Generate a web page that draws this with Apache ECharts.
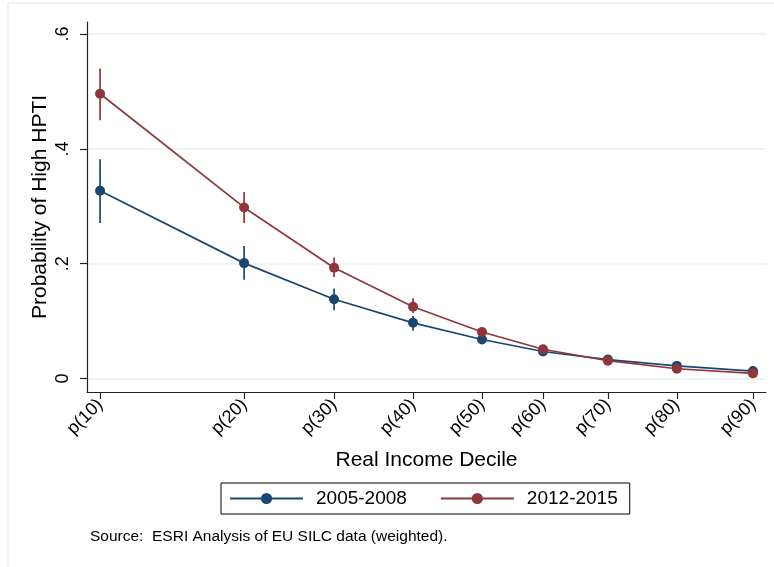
<!DOCTYPE html>
<html>
<head>
<meta charset="utf-8">
<script src="https://cdn.jsdelivr.net/npm/echarts@6/dist/echarts.min.js"></script>
<style>
html, body { margin: 0; padding: 0; background: #fff; }
#chart { width: 774px; height: 567px; }
</style>
</head>
<body>
<div id="chart"></div>
<script>
var chart = echarts.init(document.getElementById('chart'), null, { renderer: 'canvas' });

// decile labels and their real income level (x positions on the axis)
var deciles = ['p(10)', 'p(20)', 'p(30)', 'p(40)', 'p(50)', 'p(60)', 'p(70)', 'p(80)', 'p(90)'];
var incomeLevel = [8.0, 15.06, 19.47, 23.34, 26.72, 29.71, 32.89, 36.27, 40.0];

var periods = ['2005-2008', '2012-2015'];
var colors = ['#1a476f', '#90353b'];

// predicted probability of high HPTI + confidence interval
var prob0508 = [0.327, 0.201, 0.138, 0.097, 0.068, 0.047, 0.033, 0.022, 0.013];
var lo0508 = [0.271, 0.172, 0.119, 0.083, 0.061, 0.043, 0.030, 0.019, 0.010];
var hi0508 = [0.382, 0.231, 0.157, 0.109, 0.076, 0.052, 0.036, 0.025, 0.016];

var prob1215 = [0.496, 0.298, 0.193, 0.125, 0.081, 0.051, 0.031, 0.017, 0.009];
var lo1215 = [0.450, 0.271, 0.177, 0.114, 0.075, 0.047, 0.028, 0.013, 0.006];
var hi1215 = [0.540, 0.325, 0.211, 0.140, 0.088, 0.056, 0.035, 0.020, 0.012];

var yTicks = [0, 0.2, 0.4, 0.6];

var font = 'Liberation Sans, Arial, sans-serif';

function points(ys) {
    var out = [];
    for (var i = 0; i < incomeLevel.length; i++) {
        out.push([incomeLevel[i], ys[i]]);
    }
    return out;
}

function ranges(lo, hi) {
    var out = [];
    for (var i = 0; i < incomeLevel.length; i++) {
        out.push([incomeLevel[i], lo[i], hi[i]]);
    }
    return out;
}

function errorBars(name, lo, hi, color) {
    return {
        name: name,
        type: 'custom',
        silent: true,
        data: ranges(lo, hi),
        renderItem: function (params, api) {
            var a = api.coord([api.value(0), api.value(1)]);
            var b = api.coord([api.value(0), api.value(2)]);
            return {
                type: 'line',
                shape: { x1: a[0], y1: a[1], x2: b[0], y2: b[1] },
                style: { stroke: color, lineWidth: 1.7 }
            };
        }
    };
}

function curve(name, ys, color) {
    return {
        name: name,
        type: 'line',
        data: points(ys),
        symbol: 'circle',
        symbolSize: 10,
        showSymbol: true,
        lineStyle: { color: color, width: 1.7 },
        itemStyle: { color: color },
        emphasis: { disabled: true }
    };
}

chart.setOption({
    animation: false,
    grid: { left: 87, right: 8, top: 22, bottom: 175 },
    legend: {
        data: periods,
        left: 221,
        top: 483,
        orient: 'horizontal',
        padding: [6, 12, 6, 8],
        itemGap: 33,
        itemWidth: 73,
        itemHeight: 14,
        borderColor: '#000',
        borderWidth: 1,
        textStyle: { fontFamily: font, fontSize: 19, color: '#000', padding: [0, 0, 0, 8] }
    },
    xAxis: {
        type: 'value',
        min: 7.36,
        max: 40.64,
        name: 'Real Income Decile',
        nameLocation: 'middle',
        nameGap: 58,
        nameTextStyle: { fontFamily: font, fontSize: 21, color: '#000' },
        axisLine: { show: true, onZero: false, lineStyle: { color: '#222', width: 1.2 } },
        axisTick: { show: true, length: 7, customValues: incomeLevel, lineStyle: { color: '#222', width: 1.2 } },
        axisLabel: {
            customValues: incomeLevel,
            rotate: 45,
            margin: 10,
            fontFamily: font,
            fontSize: 18,
            color: '#000',
            formatter: function (v) {
                var i = incomeLevel.indexOf(v);
                return i >= 0 ? deciles[i] : '';
            }
        },
        splitLine: { show: false }
    },
    yAxis: {
        type: 'value',
        min: -0.0235,
        max: 0.621,
        name: 'Probability of High HPTI',
        nameLocation: 'middle',
        nameGap: 36,
        nameMoveOverlap: false,
        nameTextStyle: { fontFamily: font, fontSize: 21, color: '#000' },
        axisLine: { show: true, lineStyle: { color: '#222', width: 1.2 } },
        axisTick: { show: true, length: 7, customValues: yTicks, lineStyle: { color: '#222', width: 1.2 } },
        axisLabel: {
            customValues: yTicks,
            rotate: 90,
            margin: 15,
            fontFamily: font,
            fontSize: 18,
            color: '#000',
            formatter: function (v) {
                return v === 0 ? '0' : String(v).replace(/^0/, '');
            }
        },
        splitLine: { show: true, lineStyle: { color: '#eaf2f3', width: 1.5 } }
    },
    graphic: [
        { type: 'line', shape: { x1: 8, y1: 3, x2: 774, y2: 3 }, style: { stroke: '#eaf2f3', lineWidth: 1.5 } },
        { type: 'line', shape: { x1: 8, y1: 3, x2: 8, y2: 567 }, style: { stroke: '#eaf2f3', lineWidth: 1.5 } },
        {
            type: 'text',
            left: 90,
            top: 529,
            style: {
                text: 'Source:  ESRI Analysis of EU SILC data (weighted).',
                fontFamily: font,
                fontSize: 15.5,
                fill: '#000'
            }
        }
    ],
    series: [
        errorBars('ci0508', lo0508, hi0508, colors[0]),
        errorBars('ci1215', lo1215, hi1215, colors[1]),
        curve(periods[0], prob0508, colors[0]),
        curve(periods[1], prob1215, colors[1])
    ]
});
</script>
</body>
</html>
